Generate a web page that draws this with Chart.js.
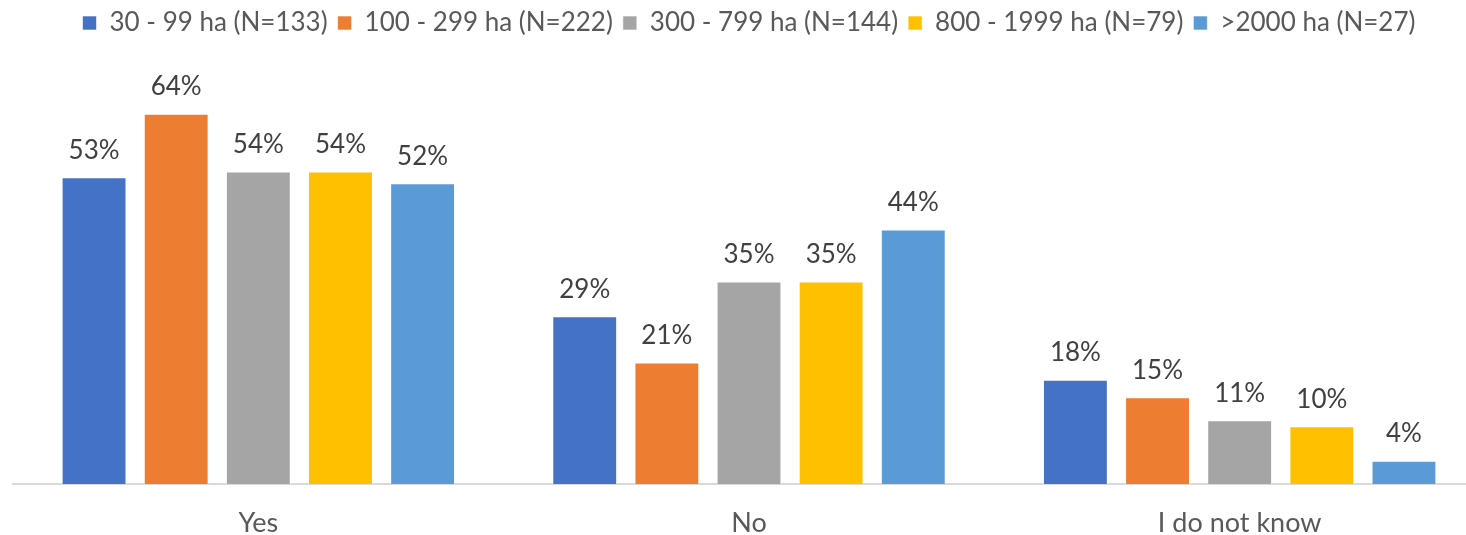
<!DOCTYPE html>
<html>
<head>
<meta charset="utf-8">
<script src="https://cdn.jsdelivr.net/npm/chart.js@4.4.1/dist/chart.umd.min.js"></script>
<style>
  html, body { margin: 0; padding: 0; background: #fff; overflow: hidden; }
  .wrap { width: 1466px; height: 535px; overflow: hidden; }
  .inner { width: 1506px; height: 535px; }
</style>
</head>
<body>
<div class="wrap"><div class="inner"><canvas id="chart"></canvas></div></div>
<script>
const categories = ["Yes", "No", "I do not know"]
const seriesNames = [
  "30 - 99 ha (N=133)",
  "100 - 299 ha (N=222)",
  "300 - 799 ha (N=144)",
  "800 - 1999 ha (N=79)",
  ">2000 ha (N=27)",
]
const small = [53, 29, 18]
const medium = [64, 21, 15]
const large = [54, 35, 11]
const veryLarge = [54, 35, 10]
const huge = [52, 44, 4]

// office palette
const colors = ["#4472C4", "#ED7D31", "#A5A5A5", "#FFC000", "#5B9BD5"]
const fontFamily = "Lato, 'Open Sans', sans-serif"

const values = [small, medium, large, veryLarge, huge]

// draw the % labels above each bar
const barLabels = {
  id: "barLabels",
  afterDatasetsDraw(chart) {
    const ctx = chart.ctx
    ctx.save()
    ctx.font = "26px " + fontFamily
    ctx.fillStyle = "#404040"
    ctx.textAlign = "center"
    ctx.textBaseline = "middle"
    chart.data.datasets.forEach((ds, i) => {
      chart.getDatasetMeta(i).data.forEach((bar, j) => {
        ctx.fillText(ds.data[j] + "%", bar.x, bar.y - 27)
      })
    })
    ctx.restore()
  }
}

// fix legend height so the plot starts where it should
const legendHeight = {
  id: "legendHeight",
  beforeInit(chart) {
    const fit = chart.legend.fit
    chart.legend.fit = function () {
      fit.call(this)
      this.height = 79
    }
  }
}

new Chart(document.getElementById("chart"), {
  type: "bar",
  data: {
    labels: categories,
    datasets: values.map((v, i) => ({
      label: seriesNames[i],
      data: v,
      backgroundColor: colors[i],
      borderColor: "rgba(255,255,255,0.6)",
      borderWidth: 1,
      categoryPercentage: 0.837,
      barPercentage: 0.79,
    })),
  },
  options: {
    responsive: true,
    maintainAspectRatio: false,
    animation: false,
    layout: { padding: { left: 13, right: 21, top: 0, bottom: 0 } },
    plugins: {
      legend: {
        position: "top",
        labels: {
          boxWidth: 14,
          boxHeight: 14,
          padding: 10,
          color: "#595959",
          font: { family: fontFamily, size: 26 },
        },
      },
      tooltip: { enabled: false },
    },
    scales: {
      x: {
        grid: { display: false, drawTicks: false },
        border: { color: "#D9D9D9", width: 2 },
        ticks: { color: "#595959", padding: 23, font: { family: fontFamily, size: 27 } },
        afterFit(scale) { scale.height = 51 },
      },
      y: {
        display: false,
        min: 0,
        max: 70,
      },
    },
  },
  plugins: [barLabels, legendHeight],
})
</script>
</body>
</html>
